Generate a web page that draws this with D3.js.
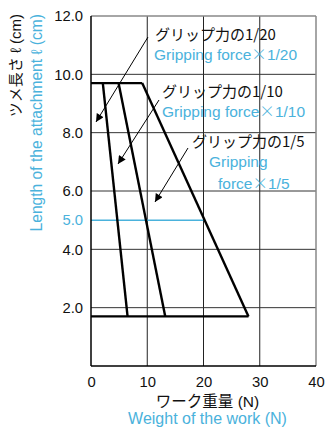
<!DOCTYPE html>
<html>
<head>
<meta charset="utf-8">
<script src="https://cdn.jsdelivr.net/npm/d3@7"></script>
<style>
  html, body { margin: 0; padding: 0; background: #fff; }
  svg { display: block; font-family: "Liberation Sans", Arial, "Noto Sans CJK JP", sans-serif; }
</style>
</head>
<body>
<svg id="chart" width="325" height="428"></svg>
<script>
// Gripping-force ratios and the weight limits at the longest / shortest attachment
const ratios = ["1/20", "1/10", "1/5"];
const weightAtLongest = [2.1, 4.9, 9.1];     // N, at length 9.7 cm
const weightAtShortest = [6.5, 13.2, 28.0];  // N, at length 1.7 cm
const lengthLongest = 9.7;
const lengthShortest = 1.7;
const xTicks = [0, 10, 20, 30, 40];
const yTicks = [2, 4, 6, 8, 10, 12];
const markedLength = 5.0;
const markedWeight = 20;
const labelsJa = ["グリップ力の1/20", "グリップ力の1/10", "グリップ力の1/5"];

const cyan = "#4ab2dc";
const cjk = "'Noto Sans CJK JP', sans-serif";
const svg = d3.select("#chart");
const m = { left: 91, right: 316, top: 16, bottom: 366 };

const x = d3.scaleLinear().domain([0, 40]).range([m.left, m.right]);
const y = d3.scaleLinear().domain([0, 12]).range([m.bottom, m.top]);

// grid
const g = svg.append("g");
g.selectAll(".vg").data(xTicks.slice(1, -1)).join("line")
  .attr("x1", d => x(d)).attr("x2", d => x(d))
  .attr("y1", m.top).attr("y2", m.bottom)
  .attr("stroke", "#222").attr("stroke-width", 1);
g.selectAll(".hg").data(yTicks.slice(0, -1)).join("line")
  .attr("x1", m.left).attr("x2", m.right)
  .attr("y1", d => y(d)).attr("y2", d => y(d))
  .attr("stroke", "#333").attr("stroke-width", 1);
// top / right frame
g.append("line").attr("x1", m.left).attr("x2", m.right).attr("y1", m.top).attr("y2", m.top)
  .attr("stroke", "#888").attr("stroke-width", 1.5);
g.append("line").attr("x1", m.right).attr("x2", m.right).attr("y1", m.top).attr("y2", m.bottom)
  .attr("stroke", "#888").attr("stroke-width", 1.5);

// marked 5.0 cm reference line
svg.append("line")
  .attr("x1", x(0)).attr("x2", x(markedWeight))
  .attr("y1", y(markedLength)).attr("y2", y(markedLength))
  .attr("stroke", cyan).attr("stroke-width", 1.5);

// axes
const yAxis = svg.append("g").attr("transform", `translate(${m.left},0)`)
  .call(d3.axisLeft(y).tickValues(yTicks.concat([markedLength])).tickFormat(d3.format(".1f")).tickSize(0).tickPadding(8));
const xAxis = svg.append("g").attr("transform", `translate(0,${m.bottom})`)
  .call(d3.axisBottom(x).tickValues(xTicks).tickSize(0).tickPadding(10));
[yAxis, xAxis].forEach(a => {
  a.select(".domain").attr("stroke", "#000").attr("stroke-width", 1.5);
  a.selectAll("text").attr("font-size", 14.8).attr("fill", "#111")
    .attr("font-family", "'Liberation Sans', Arial, sans-serif");
});
yAxis.selectAll(".tick text").filter(d => d === markedLength).attr("fill", cyan);
yAxis.select(".domain").attr("d", `M0,${m.top}V${m.bottom}`);
xAxis.select(".domain").attr("d", `M${m.left},0H${m.right}`);

// weight envelope lines
const data = svg.append("g").attr("fill", "none").attr("stroke", "#000")
  .attr("stroke-width", 2.4).attr("stroke-linejoin", "miter");
data.append("line")
  .attr("x1", x(0)).attr("x2", x(d3.max(weightAtLongest)))
  .attr("y1", y(lengthLongest)).attr("y2", y(lengthLongest));
data.append("line")
  .attr("x1", x(0)).attr("x2", x(d3.max(weightAtShortest)))
  .attr("y1", y(lengthShortest)).attr("y2", y(lengthShortest));
data.selectAll(".ratio").data(ratios).join("line")
  .attr("x1", (d, i) => x(weightAtLongest[i])).attr("y1", y(lengthLongest))
  .attr("x2", (d, i) => x(weightAtShortest[i])).attr("y2", y(lengthShortest));

// annotations with arrows
svg.append("defs").append("marker")
  .attr("id", "arr").attr("viewBox", "0 0 10 10").attr("refX", 10).attr("refY", 5)
  .attr("markerWidth", 11).attr("markerHeight", 8).attr("markerUnits", "userSpaceOnUse")
  .attr("orient", "auto")
  .append("path").attr("d", "M0,0L10,5L0,10Z").attr("fill", "#000");

const arrows = [
  [148, 37, 96, 122],
  [159, 100, 118, 164],
  [188, 148, 155, 202]
];
svg.selectAll(".arrow").data(arrows).join("line")
  .attr("x1", d => d[0]).attr("y1", d => d[1]).attr("x2", d => d[2]).attr("y2", d => d[3])
  .attr("stroke", "#000").attr("stroke-width", 1).attr("marker-end", "url(#arr)");

const ann = svg.append("g").attr("font-size", 15.5);
const jaPos = [[155, 40], [162, 97], [192, 147]];
labelsJa.forEach((t, i) => {
  ann.append("text").attr("x", jaPos[i][0]).attr("y", jaPos[i][1])
    .attr("font-family", cjk).attr("font-size", 15).attr("fill", "#111").text(t);
});
function enLabel(px, py, lead, ratio) {
  const t = ann.append("text").attr("x", px).attr("y", py).attr("fill", cyan);
  t.append("tspan").text(lead);
  t.append("tspan").attr("font-family", cjk).attr("font-weight", 300).text("\u00d7");
  t.append("tspan").text(ratio);
}
enLabel(154, 60, "Gripping force", ratios[0]);
enLabel(162, 117, "Gripping force", ratios[1]);
ann.append("text").attr("x", 209).attr("y", 167).attr("fill", cyan).text("Gripping");
enLabel(218, 189, "force", ratios[2]);

// axis titles
const cx = (m.left + m.right) / 2 + 4;
svg.append("text").attr("x", cx).attr("y", 407).attr("text-anchor", "middle")
  .attr("font-size", 15.5).attr("fill", "#111").text("ワーク重量 (N)");
svg.append("text").attr("x", cx).attr("y", 424).attr("text-anchor", "middle")
  .attr("font-size", 16).attr("fill", cyan).text("Weight of the work (N)");
svg.append("text").attr("transform", "translate(21,14) rotate(-90)").attr("text-anchor", "end")
  .attr("font-size", 15).attr("fill", "#111").text("ツメ長さ ℓ (cm)");
svg.append("text").attr("transform", "translate(42,14) rotate(-90)").attr("text-anchor", "end")
  .attr("font-size", 15.6).attr("fill", cyan).text("Length of the attachment ℓ (cm)");
</script>
</body>
</html>
